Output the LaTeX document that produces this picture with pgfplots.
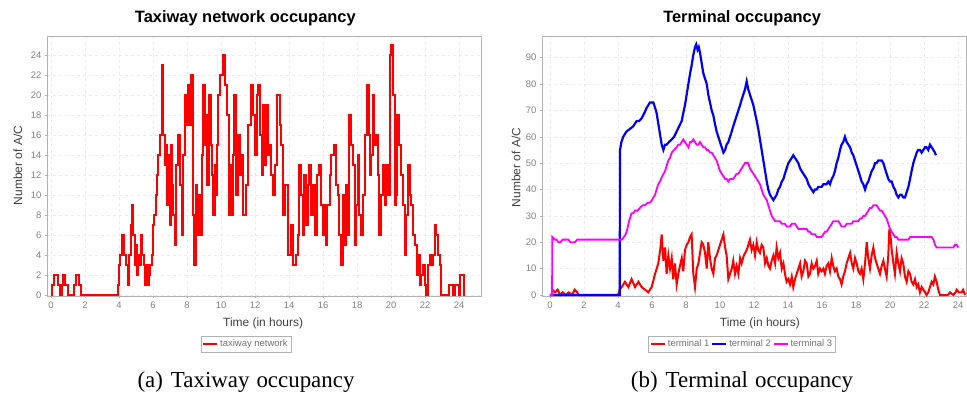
\documentclass[border=0pt]{standalone}
\usepackage{fontspec}
\setmainfont{Liberation Sans}
\newfontfamily\capfont{Liberation Serif}
\usepackage{pgfplots}
\pgfplotsset{compat=1.18}
\usepackage{pgfplotstable}
\definecolor{jred}{RGB}{255,0,0}
\definecolor{jblue}{RGB}{0,0,255}
\definecolor{jmag}{RGB}{255,0,255}

\pgfplotstableread{
x y
0 0
0.08 1
0.2 2
0.43 1
0.53 0
0.65 1
0.72 2
0.85 1
0.98 0
1.35 1
1.45 2
1.63 1
1.75 0
3.92 1
4.0 3
4.08 4
4.18 6
4.3 4
4.4 3
4.5 1
4.58 4
4.68 7
4.78 9
4.85 6
4.92 3
5.0 5
5.04 2
5.12 4
5.22 3
5.3 6
5.38 4
5.45 3
5.55 1
5.62 3
5.7 1
5.78 2
5.85 3
5.92 4
6.0 7
6.06 8
6.15 10
6.22 12
6.3 14
6.4 16
6.5 23
6.6 16
6.7 13
6.78 15
6.85 9
6.9 14
6.98 7
7.04 15
7.1 11
7.16 8
7.28 5
7.38 13
7.49 16
7.59 11
7.69 6
7.78 14
7.86 20
7.98 17
8.04 21
8.14 17
8.22 22
8.33 8
8.4 3
8.5 11
8.61 6
8.7 10
8.78 6
8.86 14
8.96 21
9.06 15
9.12 18
9.2 11
9.28 20
9.39 15
9.47 12
9.55 8
9.62 13
9.71 10
9.78 15
9.84 20
9.94 22
10.1 24
10.26 21
10.36 18
10.45 8
10.52 13
10.62 8
10.7 14
10.78 20
10.9 10
10.98 16
11.1 12
11.22 14
11.3 8
11.45 11
11.6 17
11.75 21
11.9 18
12.0 14
12.1 20
12.2 21
12.32 16
12.4 12
12.46 19
12.55 13
12.65 19
12.75 14
12.85 15
12.95 12
13.05 10
13.2 13
13.32 20
13.45 17
13.55 15
13.63 8
13.78 11
13.95 4
14.1 7
14.25 3
14.38 4
14.5 6
14.58 13
14.7 10
14.8 6
14.9 12
15.0 7
15.1 11
15.2 13
15.3 8
15.4 11
15.5 6
15.62 12
15.78 13
15.9 9
16.0 6
16.08 9
16.15 5
16.26 9
16.38 12
16.48 14
16.66 15
16.78 11
16.86 10
16.96 6
17.04 3
17.15 10
17.25 5
17.35 11
17.45 6
17.55 18
17.65 15
17.75 13
17.85 5
17.94 9
18.04 14
18.14 8
18.24 6
18.34 10
18.48 16
18.6 21
18.7 16
18.78 12
18.84 14
18.92 20
19.02 15
19.12 16
19.22 12
19.32 6
19.42 10
19.52 13
19.62 9
19.72 13
19.82 10
19.92 24
19.98 25
20.12 20
20.22 9
20.28 10
20.35 18
20.46 15
20.6 12
20.7 9
20.8 4
20.9 8
21.0 13
21.1 10
21.2 9
21.3 6
21.4 5
21.5 2
21.6 4
21.7 1
21.78 2
21.88 3
21.98 1
22.05 0
22.15 3
22.28 4
22.37 3
22.46 4
22.56 7
22.67 6
22.76 4
22.86 3
22.96 0
23.4 1
23.62 0
23.75 1
23.98 0
24.05 2
24.3 0
24.32 0
}\taxiway

\pgfplotstableread{
x y
0 0
0.1 0
0.14 2
0.3 1
0.45 2
0.6 0
0.75 1
0.9 0
1.1 1
1.3 0
1.45 2
1.6 1
1.7 0
4.0 0
4.1 2
4.22 3
4.41 5
4.61 3
4.8 6
5.0 3
5.2 5
5.39 3
5.59 2
5.78 1
5.98 3
6.18 8
6.37 12
6.5 18
6.57 23
6.67 13
6.77 18
6.86 8
6.96 15
7.06 10
7.16 14
7.25 6
7.35 12
7.45 4
7.55 8
7.61 10
7.75 14
7.84 9
7.94 17
8.04 19
8.14 20
8.24 22
8.33 23
8.43 8
8.53 3
8.63 10
8.73 12
8.92 20
9.02 19
9.12 16
9.22 10
9.31 20
9.41 14
9.51 10
9.61 8
9.71 14
9.8 15
10.0 19
10.2 23
10.3 18
10.39 15
10.49 6
10.59 8
10.69 10
10.78 13
10.88 8
10.98 11
11.08 8
11.18 14
11.27 12
11.4 15
11.57 17
11.76 21
11.86 17
11.96 19
12.06 15
12.16 20
12.25 17
12.35 16
12.45 19
12.55 18
12.65 12
12.75 14
12.85 11
12.94 10
13.04 13
13.14 15
13.24 12
13.33 18
13.43 14
13.53 16
13.63 10
13.73 12
13.82 8
13.92 5
14.02 6
14.12 4
14.22 7
14.31 3
14.41 6
14.51 8
14.61 10
14.71 12
14.8 7
14.9 9
15.0 13
15.1 12
15.2 7
15.29 8
15.39 12
15.49 10
15.59 11
15.69 13
15.78 8
15.88 10
15.98 9
16.08 10
16.17 8
16.27 11
16.37 12
16.47 9
16.57 14
16.66 11
16.76 9
16.86 10
16.96 7
17.06 6
17.15 4
17.25 7
17.35 9
17.45 12
17.55 14
17.65 16
17.75 12
17.84 10
17.94 14
18.04 12
18.14 9
18.24 8
18.33 10
18.43 6
18.53 12
18.63 20
18.72 14
18.82 10
18.92 15
19.02 18
19.12 14
19.21 12
19.31 10
19.41 8
19.51 11
19.61 13
19.7 10
19.8 7
19.9 15
19.96 25
20.05 21
20.1 17
20.2 12
20.29 8
20.39 16
20.49 12
20.59 9
20.68 14
20.78 12
20.88 7
20.98 5
21.08 9
21.18 8
21.27 5
21.37 4
21.47 6
21.57 3
21.66 4
21.76 1
21.86 3
21.96 2
22.06 1
22.15 0
22.25 1
22.35 3
22.45 5
22.55 4
22.64 7
22.74 5
22.84 2
22.94 0
23.4 0
23.53 1
23.72 0
23.85 1
23.92 2
24.05 1
24.21 1
24.3 2
24.41 0
}\termone

\pgfplotstableread{
x y
0 0
4.1 0
4.12 55
4.2 58
4.31 60
4.5 62
4.71 63
4.9 64
5.1 66
5.25 66
5.39 67
5.55 69
5.69 71
5.88 73
6.08 73
6.18 71
6.27 69
6.37 65
6.47 61
6.57 57
6.67 55
6.77 57
6.86 57
7.0 58
7.16 59
7.3 60
7.45 62
7.6 64
7.75 66
7.84 69
7.94 72
8.04 76
8.14 80
8.24 84
8.33 87
8.43 91
8.53 94
8.6 95
8.68 93
8.75 94
8.82 92
8.92 88
9.02 84
9.12 82
9.22 80
9.31 76
9.41 73
9.51 70
9.61 68
9.7 65
9.8 62
9.9 60
10.0 58
10.1 56
10.2 54
10.3 55
10.39 57
10.49 58
10.59 60
10.69 62
10.78 64
10.88 66
10.98 68
11.08 70
11.18 72
11.27 74
11.37 76
11.47 78
11.57 81
11.66 78
11.76 76
11.86 74
11.96 72
12.06 69
12.16 66
12.25 63
12.35 59
12.45 55
12.55 51
12.65 47
12.75 43
12.84 40
12.94 38
13.04 37
13.14 36
13.24 37
13.33 38
13.43 40
13.53 41
13.63 43
13.73 44
13.82 46
13.92 48
14.02 50
14.12 51
14.22 52
14.31 53
14.41 52
14.51 51
14.61 50
14.71 48
14.8 47
14.9 46
15.0 45
15.1 44
15.2 42
15.29 41
15.39 40
15.49 39
15.59 40
15.69 40
15.78 41
15.88 41
15.98 41
16.08 42
16.17 42
16.27 42
16.37 43
16.47 42
16.57 44
16.66 45
16.76 47
16.86 50
16.96 52
17.06 55
17.15 57
17.25 58
17.35 60
17.45 58
17.55 57
17.65 56
17.75 54
17.84 53
17.94 51
18.04 49
18.14 47
18.24 45
18.33 43
18.43 42
18.53 40
18.63 42
18.72 43
18.82 45
18.92 47
19.02 48
19.12 50
19.21 50
19.31 51
19.41 51
19.51 51
19.61 50
19.7 48
19.8 46
19.9 44
20.0 43
20.1 43
20.2 41
20.29 40
20.39 38
20.49 37
20.59 38
20.68 38
20.78 37
20.88 37
20.98 39
21.08 41
21.18 44
21.27 47
21.37 50
21.47 52
21.57 54
21.66 55
21.76 55
21.86 54
21.96 55
22.06 56
22.15 56
22.25 55
22.35 57
22.45 56
22.55 55
22.64 54
22.7 53
}\termtwo

\pgfplotstableread{
x y
0 0
0.12 0
0.14 22
0.3 21
0.39 21
0.5 20
0.59 20
0.75 21
0.88 21
1.08 21
1.2 20
1.3 20
1.47 20
1.6 21
4.22 21
4.35 22
4.45 23
4.55 25
4.65 28
4.8 31
4.9 31
5.0 32
5.15 32
5.29 33
5.45 34
5.59 34
5.75 35
5.88 35
6.0 36
6.08 37
6.18 38
6.27 40
6.37 42
6.47 43
6.6 45
6.77 47
6.86 49
6.96 51
7.06 52
7.16 54
7.3 55
7.45 56
7.55 57
7.65 57
7.75 58
7.84 59
7.94 58
8.04 57
8.14 56
8.24 58
8.33 58
8.43 59
8.53 58
8.63 57
8.73 57
8.82 58
8.92 57
9.02 56
9.12 56
9.22 55
9.31 55
9.41 54
9.51 54
9.61 53
9.7 52
9.8 51
9.9 49
10.0 47
10.1 46
10.2 45
10.3 44
10.39 44
10.49 43
10.59 44
10.69 44
10.78 44
10.88 45
10.98 46
11.08 46
11.18 47
11.27 48
11.37 49
11.47 50
11.57 50
11.66 50
11.76 48
11.86 47
11.96 46
12.06 45
12.16 44
12.25 43
12.35 42
12.45 40
12.55 38
12.65 37
12.75 36
12.84 34
12.94 32
13.04 30
13.14 29
13.24 28
13.33 28
13.43 28
13.53 28
13.63 27
13.73 27
13.82 27
13.92 26
14.02 26
14.12 26
14.22 27
14.31 27
14.41 27
14.51 26
14.61 25
14.71 25
14.8 25
14.9 25
15.0 25
15.1 25
15.2 24
15.29 24
15.39 23
15.49 23
15.59 23
15.69 22
15.78 22
15.88 22
15.98 22
16.08 23
16.17 24
16.27 24
16.37 25
16.47 26
16.57 27
16.66 28
16.76 28
16.86 28
16.96 28
17.06 27
17.15 26
17.25 26
17.35 26
17.45 27
17.55 27
17.65 27
17.75 27
17.84 28
17.94 28
18.04 28
18.14 28
18.24 29
18.33 29
18.43 30
18.53 30
18.63 31
18.72 32
18.82 33
18.92 33
19.02 34
19.12 34
19.21 34
19.31 33
19.41 32
19.51 32
19.61 31
19.7 30
19.8 29
19.9 27
20.0 25
20.1 24
20.2 23
20.29 22
20.39 22
20.49 21
20.59 21
20.78 21
20.98 21
21.08 21
21.18 22
21.5 22
21.96 22
22.35 22
22.45 22
22.55 21
22.65 19
22.74 18
23.0 18
23.33 18
23.72 18
23.82 19
23.92 19
24.02 18
}\termthree

\pgfplotsset{
  jf/.style={
    scale only axis,
    height=260bp,
    axis line style={gray!60},
    tick style={gray!60, line width=0.5bp},
    tick align=outside,
    major tick length=2bp,
    xtick pos=bottom, ytick pos=left,
    grid=major,
    grid style={dashed, gray!16, line width=0.5bp},
    ticklabel style={font=\fontsize{9.5}{10}\selectfont, text=gray},
    /pgf/number format/assume math mode=true,
    label style={font=\fontsize{12}{13}\selectfont, text=black!75},
    every axis title shift=0pt,
    title style={font=\bfseries\fontsize{16.5}{18}\selectfont},
    xtick={0,2,...,24},
    xlabel={Time (in hours)},
    ylabel={Number of A/C},
    legend style={draw=gray!60, font=\fontsize{9.5}{10}\selectfont, text=gray!90!black,
      inner sep=1.5bp, row sep=0pt, anchor=center},
    legend cell align=left,
    legend image code/.code={\draw[#1, line width=1.8bp] (0bp,0bp) -- (14bp,0bp);},
  }
}

\begin{document}
\begin{tikzpicture}
\useasboundingbox (0,0) rectangle (967bp,-394bp);

\begin{axis}[jf,
  at={(47bp,-296bp)}, anchor=south west,
  width=434bp,
  xmin=-0.235, xmax=25.29,
  ymin=-0.1, ymax=25.9,
  ytick={0,2,...,24},
  title={Taxiway network occupancy},
  title style={at={(0.457,1.0695)}, anchor=center, yshift=0pt},
  xlabel style={at={(0.498,-0.104)}, anchor=center},
  ylabel style={at={(-0.067,0.502)}, anchor=center},
  legend style={at={(0.4585,-0.185)}},
]
\addplot[jred, line width=2bp, const plot] table[x=x, y=y] {\taxiway};
\addlegendentry{taxiway network}
\end{axis}

\begin{axis}[jf,
  at={(542bp,-296bp)}, anchor=south west,
  width=424bp,
  xmin=-0.47, xmax=24.47,
  ymin=-0.38, ymax=98.2,
  ytick={0,10,...,90},
  title={Terminal occupancy},
  title style={at={(0.472,1.0695)}, anchor=center, yshift=0pt},
  xlabel style={at={(0.514,-0.104)}, anchor=center},
  ylabel style={at={(-0.061,0.494)}, anchor=center},
  legend style={at={(0.472,-0.185)}, legend columns=3},
]
\addplot[jred, line width=2bp] table[x=x, y=y] {\termone};
\addlegendentry{terminal 1}
\addplot[jblue, line width=2.2bp] table[x=x, y=y] {\termtwo};
\addlegendentry{terminal 2}
\addplot[jmag, line width=1.8bp] table[x=x, y=y] {\termthree};
\addlegendentry{terminal 3}
\end{axis}

\node[font=\capfont\fontsize{23}{25}\selectfont, anchor=base] at (246bp,-387bp) {(a)\hspace{8bp}Taxiway\hspace{7bp}occupancy};
\node[font=\capfont\fontsize{23}{25}\selectfont, anchor=base] at (742bp,-387bp) {(b)\hspace{8bp}Terminal\hspace{7bp}occupancy};
\end{tikzpicture}
\end{document}
